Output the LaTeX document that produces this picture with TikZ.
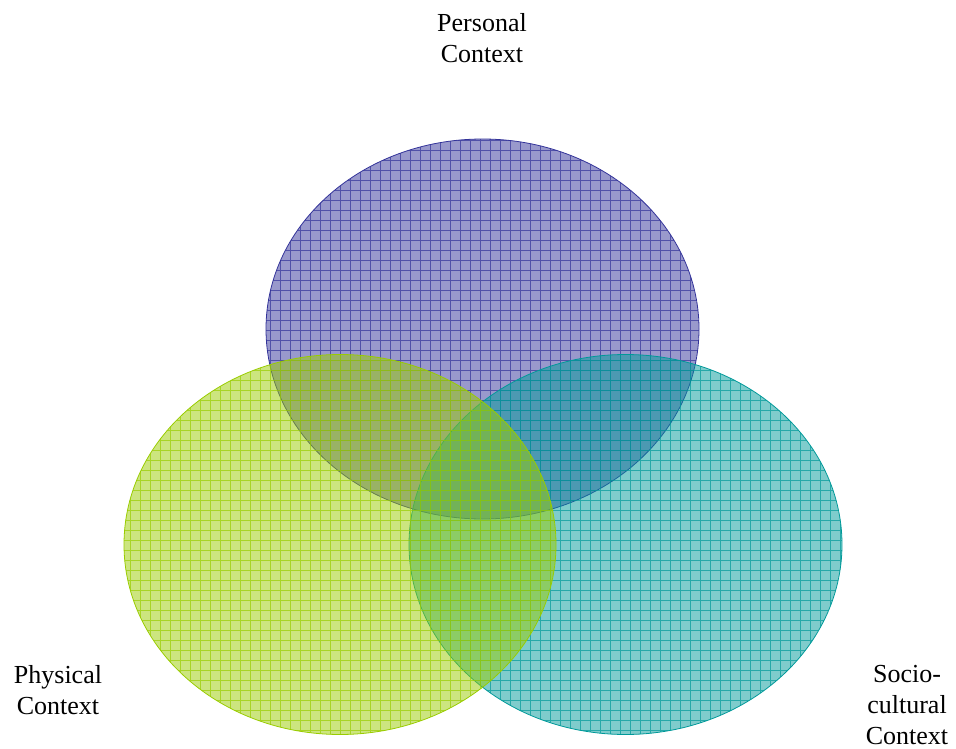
\documentclass[tikz,border=0pt]{standalone}
\usepackage{fontspec}
\setmainfont{Liberation Serif}
\begin{document}
\definecolor{cPers}{RGB}{51,51,153}
\definecolor{cPhys}{RGB}{153,204,0}
\definecolor{cSoc}{RGB}{0,153,153}
\tikzset{
  lbl/.style={font=\fontsize{26pt}{31pt}\selectfont, align=center, inner sep=0pt},
}
% one hatched, semi-transparent circle of the diagram
\newcommand{\ctxdisc}[5]{%
  \begin{scope}
    \clip (#1,#2) ellipse [x radius=#3, y radius=190];
    \fill[#4, fill opacity=0.5] (#1,#2) ellipse [x radius=#3, y radius=190];
    \draw[#4, line width=0.8pt, draw opacity=0.7, step=10]
      (#1-#3-10,#2-200) grid (#1+#3+10,#2+200);
  \end{scope}
  \draw[#4, line width=0.8pt] (#1,#2) ellipse [x radius=#3, y radius=190] node (#5) {};
}
\begin{tikzpicture}[x=1pt,y=1pt]
  \useasboundingbox (0,0) rectangle (956,-749);
  \ctxdisc{482.5}{-329}{216.5}{cPers}{pers}
  \ctxdisc{625.5}{-544.5}{216.5}{cSoc}{soc}
  \ctxdisc{340}{-544.5}{216}{cPhys}{phys}
  \node[lbl] (tPers) at (482,-38) {Personal\\Context};
  \node[lbl] (tPhys) at (58,-690) {Physical\\Context};
  \node[lbl] (tSoc) at (907,-705) {Socio-\\cultural\\Context};
\end{tikzpicture}
\end{document}
